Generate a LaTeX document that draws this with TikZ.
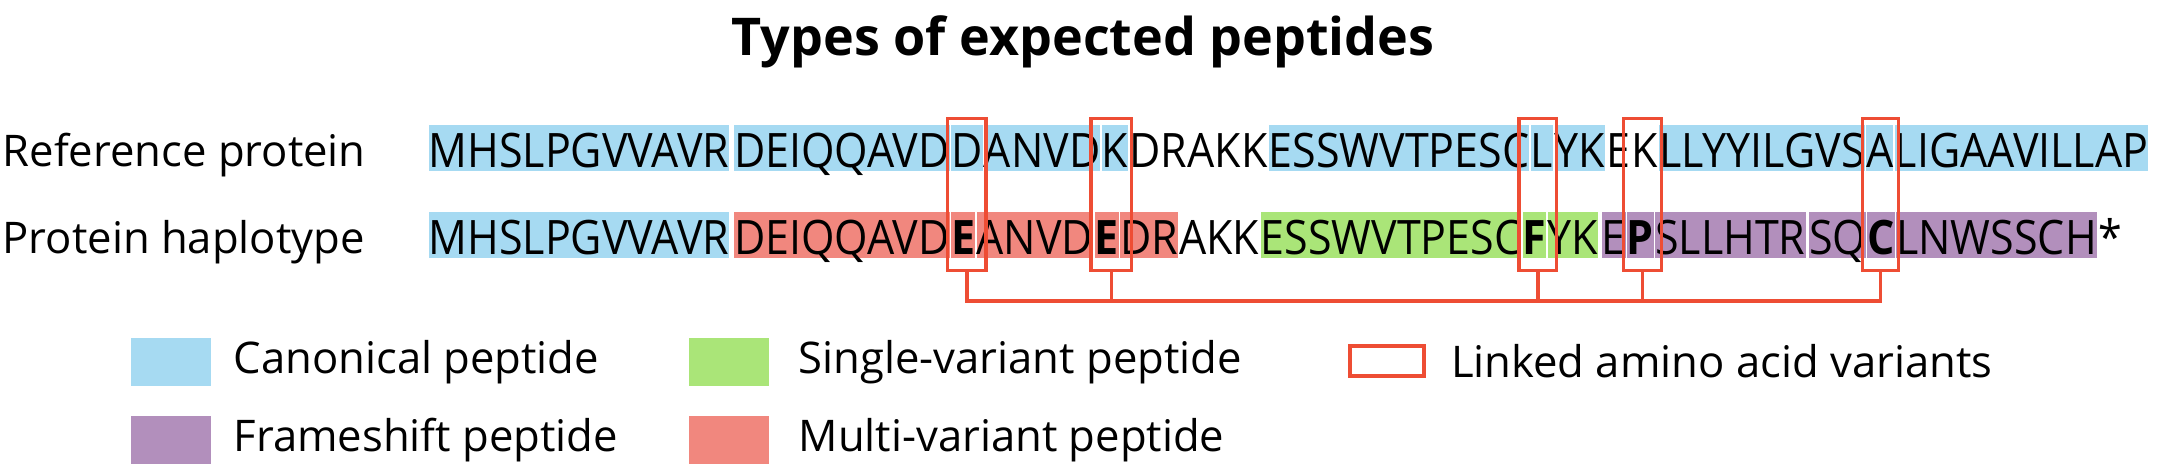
\documentclass[tikz,border=0pt]{standalone}
\usepackage{fontspec}
\setmainfont{Open Sans}
\newfontfamily\seqfont[FakeStretch=0.905]{Open Sans}
\usetikzlibrary{positioning,fit}

\definecolor{canonblue}{RGB}{166,218,242}
\definecolor{singlegreen}{RGB}{170,229,120}
\definecolor{multired}{RGB}{241,135,126}
\definecolor{framepurple}{RGB}{178,143,188}
\definecolor{linkred}{RGB}{238,77,52}

\tikzset{
    seq/.style={font=\seqfont\fontsize{13.5}{16}\selectfont,
        anchor=west, inner xsep=0pt, inner ysep=0pt,
        text height=11.95pt, text depth=1.14pt},
    canon/.style={seq, fill=canonblue},
    single/.style={seq, fill=singlegreen},
    multi/.style={seq, fill=multired},
    frame/.style={seq, fill=framepurple},
    rowname/.style={font=\fontsize{12.4}{14}\selectfont, anchor=base west, inner sep=0pt},
    linkbox/.style={draw=linkred, line width=1pt, inner xsep=0.8pt,
        inner ysep=2.5pt, yshift=-0.85pt},
    linkline/.style={draw=linkred, line width=1pt},
    swatch/.style={minimum width=22.8pt, minimum height=13.7pt, inner sep=0pt},
    legendtext/.style={font=\fontsize{12.4}{14}\selectfont, inner sep=0pt}
}

\begin{document}
\begin{tikzpicture}[x=0.01cm, y=-0.01cm]
        \useasboundingbox (0,0) rectangle (2167,467);

        % Title
        \node [font=\bfseries\fontsize{14.8}{18}\selectfont,
            anchor=base] (title) at (1083,56) {Types of expected peptides};

        % Reference protein
        \node [rowname] (refname) at (2,167) {Reference protein};
        \node [canon] (r0) at (428,148) {MHSLPGVVAVR};
        \node [canon, right=1pt of r0] (r1) {DEIQQAVD};
        \node [canon, right=0pt of r1] (rD) {D};
        \node [canon, right=0pt of rD] (r2) {ANVD};
        \node [canon, right=0pt of r2] (rK) {K};
        \node [seq, right=0pt of rK] (r3) {DRAKK};
        \node [canon, right=0pt of r3] (r4) {ESSWVTPESC};
        \node [canon, right=0pt of r4] (rL) {L};
        \node [canon, right=0pt of rL] (r5) {YK};
        \node [seq, right=0pt of r5] (r6) {E};
        \node [seq, right=0pt of r6] (rKb) {K};
        \node [canon, right=0pt of rKb] (r7) {LLYYILGVS};
        \node [canon, right=0pt of r7] (rA) {A};
        \node [canon, right=0pt of rA] (r8) {LIGAAVILLAP};

        % Protein haplotype
        \node [rowname] (hapname) at (2,254) {Protein haplotype};
        \node [canon] (h0) at (428,235) {MHSLPGVVAVR};
        \node [multi, right=1pt of h0] (h1) {DEIQQAVD};
        \node [multi, right=0pt of h1] (hE) {\bfseries E};
        \node [multi, right=0pt of hE] (h2) {ANVD};
        \node [multi, right=0pt of h2] (hEb) {\bfseries E};
        \node [multi, right=0pt of hEb] (h3) {DR};
        \node [seq, right=0pt of h3] (h4) {AKK};
        \node [single, right=0pt of h4] (h5) {ESSWVTPESC};
        \node [single, right=0pt of h5] (hF) {\bfseries F};
        \node [single, right=0pt of hF] (h6) {YK};
        \node [frame, right=0.6pt of h6] (h7) {E};
        \node [frame, right=0pt of h7] (hP) {\bfseries P};
        \node [frame, right=0pt of hP] (h8) {SLLHTR};
        \node [frame, right=0.6pt of h8] (h9) {SQ};
        \node [frame, right=0pt of h9] (hC) {\bfseries C};
        \node [frame, right=0pt of hC] (h10) {LNWSSCH};
        \node [seq, right=0pt of h10] (h11) {*};

        % Linked variants
        \node [linkbox, fit=(rD)(hE)] (v1) {};
        \node [linkbox, fit=(rK)(hEb)] (v2) {};
        \node [linkbox, fit=(rL)(hF)] (v3) {};
        \node [linkbox, fit=(rKb)(hP)] (v4) {};
        \node [linkbox, fit=(rA)(hC)] (v5) {};
        \coordinate (bus) at (0,301);
        \draw [linkline] (v1.south) -- (v1.south |- bus) -- (v5.south |- bus) -- (v5.south);
        \foreach \v in {v2,v3,v4}
            \draw [linkline] (\v.south) -- (\v.south |- bus);

        % Legend
        \node [swatch, fill=canonblue] (kcanon) at (171,362) {};
        \node [legendtext, right=6pt of kcanon] (tcanon) {Canonical peptide};
        \node [swatch, fill=framepurple] (kframe) at (171,440) {};
        \node [legendtext, right=6pt of kframe] (tframe) {Frameshift peptide};
        \node [swatch, fill=singlegreen] (ksingle) at (729,362) {};
        \node [legendtext, right=8pt of ksingle] (tsingle) {Single-variant peptide};
        \node [swatch, fill=multired] (kmulti) at (729,440) {};
        \node [legendtext, right=8pt of kmulti] (tmulti) {Multi-variant peptide};
        \node [draw=linkred, line width=1pt, minimum width=21pt,
            minimum height=8.5pt] (klink) at (1387,361) {};
        \node [legendtext, right=7pt of klink] (tlink) {Linked amino acid variants};

\end{tikzpicture}
\end{document}
